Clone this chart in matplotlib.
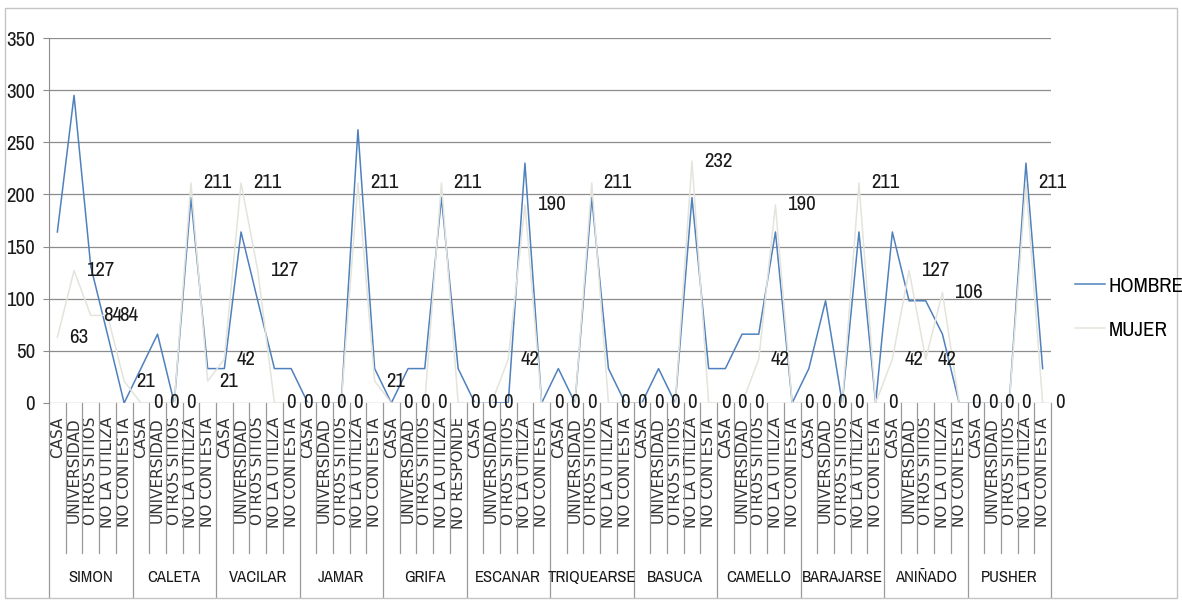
import numpy as np
import matplotlib
matplotlib.use("Agg")
import matplotlib.pyplot as plt
import matplotlib.transforms as mtransforms
from matplotlib import font_manager
from matplotlib.patches import Rectangle

# terms (groups) and where each one is used (categories)
groups = ["SIMON", "CALETA", "VACILAR", "JAMAR", "GRIFA", "ESCANAR",
          "TRIQUEARSE", "BASUCA", "CAMELLO", "BARAJARSE", "ANIÑADO", "PUSHER"]
uses = ["CASA", "UNIVERSIDAD", "OTROS SITIOS", "NO LA UTILIZA", "NO CONTESTA"]
uses_grifa = ["CASA", "UNIVERSIDAD", "OTROS SITIOS", "NO LA UTILIZA", "NO RESPONDE"]

hombre = [164, 295, 131, 66, 0,
          33, 66, 0, 197, 33,
          33, 164, 98, 33, 33,
          0, 0, 0, 262, 33,
          0, 33, 33, 197, 33,
          0, 0, 0, 230, 0,
          33, 0, 197, 33, 0,
          0, 33, 0, 197, 33,
          33, 66, 66, 164, 0,
          33, 98, 0, 164, 0,
          164, 98, 98, 66, 0,
          0, 0, 0, 230, 33]

mujer = [63, 127, 84, 84, 21,
         0, 0, 0, 211, 21,
         42, 211, 127, 0, 0,
         0, 0, 0, 211, 21,
         0, 0, 0, 211, 0,
         0, 0, 42, 190, 0,
         0, 0, 211, 0, 0,
         0, 0, 0, 232, 0,
         0, 0, 42, 190, 0,
         0, 0, 0, 211, 0,
         42, 127, 42, 106, 0,
         0, 0, 0, 211, 0]

cat_labels = []
for g in groups:
    cat_labels += uses_grifa if g == "GRIFA" else uses

# look for a narrow face, the scan uses a condensed font
narrow, stretch = None, "normal"
for f in font_manager.fontManager.ttflist:
    if "Narrow" in f.name or "Condensed" in f.name:
        narrow = f.name
        break
if narrow is None:
    for pref in ["DejaVu Sans", "Noto Sans", "Roboto", "Open Sans", "Liberation Sans"]:
        if any(f.name == pref and "ondensed" in str(f.stretch)
               for f in font_manager.fontManager.ttflist):
            narrow, stretch = pref, "condensed"
            break
if narrow is None:
    narrow = "Roboto"
nf = {"family": narrow, "stretch": stretch}

W, H = 1182, 604
fig = plt.figure(figsize=(W / 100, H / 100), dpi=100)
ax = fig.add_axes([49 / W, 1 - 403 / H, (1051 - 49) / W, (403 - 38) / H])

x = np.arange(len(hombre))
ax.plot(x, hombre, color="#4F81BD", lw=1.1, label="HOMBRE")
ax.plot(x, mujer, color="#E4E4DC", lw=1.1, label="MUJER")

# data labels on the MUJER series
for xi, v in zip(x, mujer):
    ax.annotate(str(v), (xi, v), xytext=(12, 0), textcoords="offset pixels",
                ha="left", va="center", fontsize=15, color="#1a1a1a", **nf)

ax.set_xlim(-0.5, len(x) - 0.5)
ax.set_ylim(0, 350)
ax.set_yticks(range(0, 351, 50))
ax.grid(axis="y", color="#8c8c8c", lw=0.9)
ax.set_axisbelow(True)
for s in ["top", "right", "bottom"]:
    ax.spines[s].set_visible(False)
ax.spines["left"].set_color("#8c8c8c")
ax.tick_params(axis="y", length=4, color="#8c8c8c", pad=6, labelsize=15)
for lab in ax.get_yticklabels():
    lab.set_family(narrow)
    lab.set_stretch(stretch)
    lab.set_color("#1a1a1a")

ax.set_xticks(x, cat_labels, rotation=90, fontsize=11, family="DejaVu Sans", color="#333333")
ax.tick_params(axis="x", length=0, pad=10)

# category / group separators below the axis
blend = mtransforms.blended_transform_factory(ax.transData, fig.transFigure)
y_axis = 1 - 403 / H
for i in range(len(x) + 1):
    y_end = 1 - 597 / H if i % len(uses) == 0 else 1 - 553 / H
    ax.plot([i - 0.5, i - 0.5], [y_axis, y_end], transform=blend,
            color="#9a9a9a", lw=0.9, clip_on=False)

for gi, g in enumerate(groups):
    ax.text(gi * len(uses) + (len(uses) - 1) / 2, 1 - 578 / H, g, transform=blend,
            ha="center", va="center", fontsize=12, color="#1a1a1a", **nf)

fig.legend(loc="center left", bbox_to_anchor=(1075 / W, 1 - 308 / H), frameon=False,
           prop={"family": narrow, "stretch": stretch, "size": 15}, borderpad=0,
           borderaxespad=0, handlelength=1.45, handletextpad=0.15, labelspacing=1.2)

fig.add_artist(Rectangle((0.004, 0.01), 0.992, 0.977, transform=fig.transFigure,
                         fill=False, edgecolor="#c4c4c4", lw=1))

fig.savefig("out.png", dpi=100)
